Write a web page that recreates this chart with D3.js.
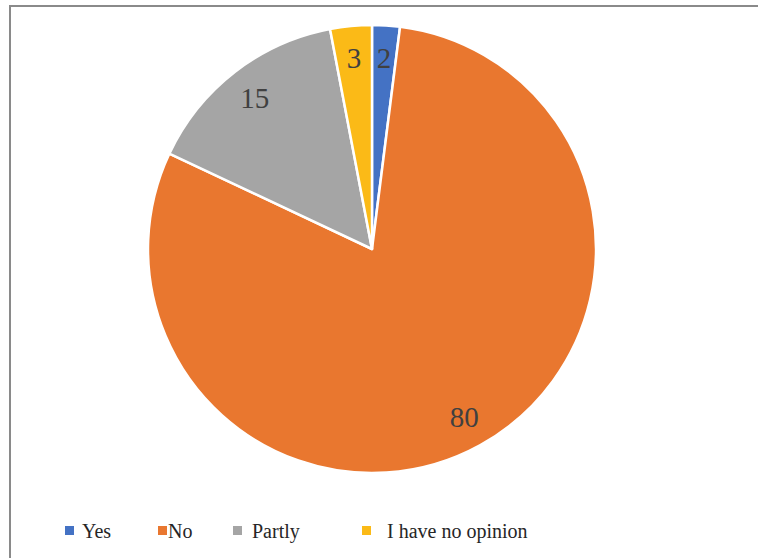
<!DOCTYPE html>
<html>
<head>
<meta charset="utf-8">
<script src="https://cdn.jsdelivr.net/npm/d3@7/dist/d3.min.js"></script>
</head>
<body style="margin:0;background:#fff">
<div id="fig"></div>
<script>
const categories = ["Yes", "No", "Partly", "I have no opinion"];
const values = [2, 80, 15, 3];
const colors = ["#4472C4", "#E9772F", "#A5A5A5", "#FBBA17"];

const W = 758, H = 558;
const cx = 372, cy = 249, R = 224;
const SERIF = "Liberation Serif";

const svg = d3.select("#fig").append("svg")
  .attr("width", W).attr("height", H)
  .style("display", "block");

// frame (cropped on right and bottom)
svg.append("path")
  .attr("d", `M10,${H + 5} L10,6 L${W + 5},6`)
  .attr("fill", "none")
  .attr("stroke", "#8a8a8a")
  .attr("stroke-width", 2);

const data = categories.map((c, i) => ({ cat: c, value: values[i], color: colors[i] }));

const pie = d3.pie().value(d => d.value).sort(null);
const arcs = pie(data);
const arc = d3.arc().innerRadius(0).outerRadius(R);
const labelArc = d3.arc().innerRadius(R * 0.855).outerRadius(R * 0.855);

const g = svg.append("g").attr("transform", `translate(${cx},${cy})`);

g.selectAll("path.slice")
  .data(arcs)
  .join("path")
  .attr("class", "slice")
  .attr("d", arc)
  .attr("fill", d => d.data.color)
  .attr("stroke", "#fff")
  .attr("stroke-width", 2.5)
  .attr("stroke-linejoin", "round");

arcs.forEach(d => {
  const [x, y] = labelArc.centroid(d);
  g.append("text")
    .attr("x", x)
    .attr("y", y + 10)
    .attr("text-anchor", "middle")
    .attr("font-family", SERIF)
    .attr("font-size", 29)
    .attr("fill", "#404040")
    .text(d.data.value);
});

// legend
const legendX = [65, 158, 233, 362];
const legendTextDx = [17, 10, 19, 25];
data.forEach((d, i) => {
  svg.append("rect")
    .attr("x", legendX[i]).attr("y", 526)
    .attr("width", 9).attr("height", 9)
    .attr("fill", d.color);
  svg.append("text")
    .attr("x", legendX[i] + legendTextDx[i])
    .attr("y", 538)
    .attr("font-family", SERIF)
    .attr("font-size", 20)
    .attr("fill", "#262626")
    .text(d.cat);
});
</script>
</body>
</html>
